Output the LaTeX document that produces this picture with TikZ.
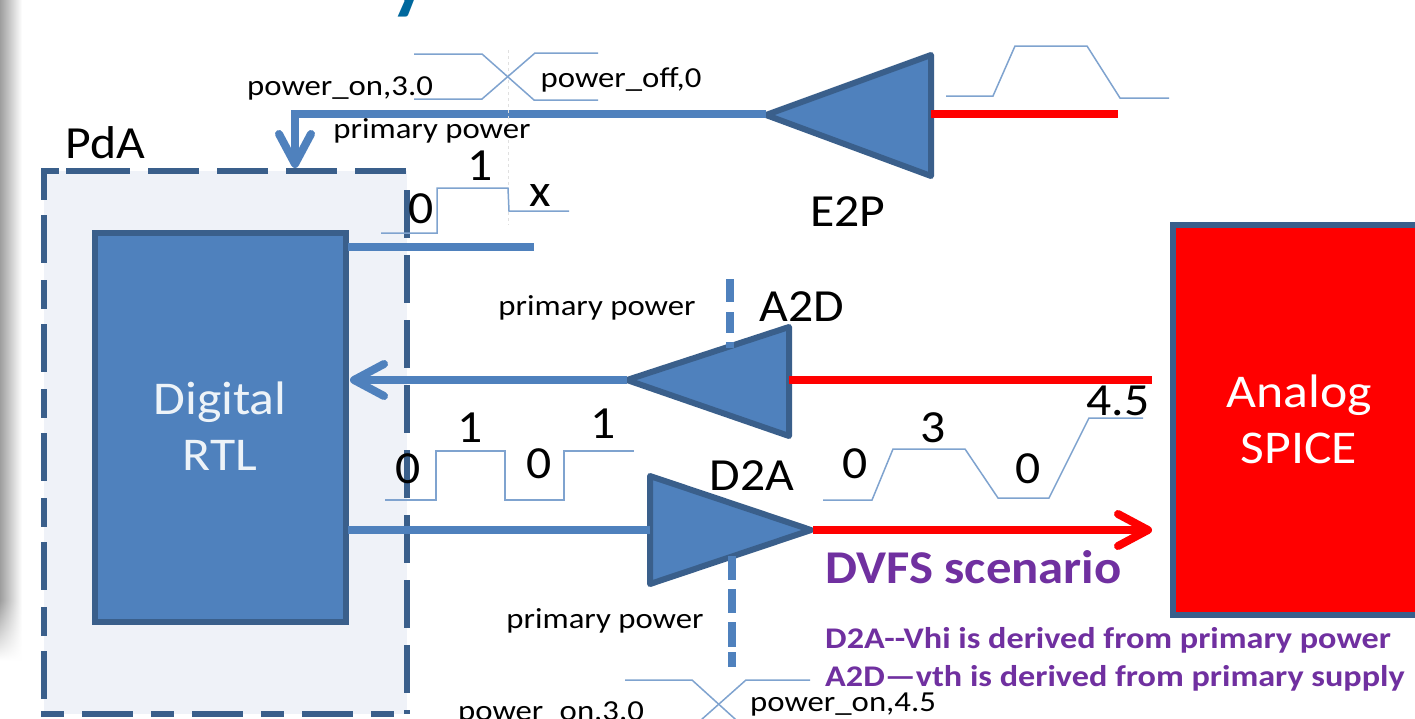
\documentclass[tikz,border=0pt]{standalone}
\usepackage{fontspec}
\setmainfont{Carlito}
\newfontfamily\smallface[FakeStretch=1.13]{Carlito}
\newfontfamily\sigface[FakeStretch=1.08]{Carlito}
\newfontfamily\blockface[FakeStretch=1.1]{Carlito}
\newfontfamily\noteface[FakeStretch=1.14]{Carlito}
\newfontfamily\headface[FakeStretch=1.08]{Carlito}
\usetikzlibrary{arrows.meta,calc,fadings}
\tikzfading[name=fadedown, top color=transparent!0, bottom color=transparent!100]
\definecolor{fillblue}{HTML}{4F81BD}
\definecolor{edgeblue}{HTML}{3A5F8B}
\definecolor{wave}{HTML}{7FA3CF}
\definecolor{paleblock}{HTML}{EFF2F8}
\definecolor{dvfs}{HTML}{7030A0}
\definecolor{titleblue}{HTML}{00689D}
\tikzset{
  x=1pt,y=-1pt,
  wire/.style={line width=8pt,color=fillblue},
  redwire/.style={line width=8.5pt,color=red},
  tri/.style={draw=edgeblue,fill=fillblue,line width=6pt,line join=round},
  wavy/.style={line width=1.5pt,color=wave},
  stem/.style={line width=8pt,color=fillblue},
  sig/.style={inner sep=0pt,text=black,font=\sigface\fontsize{46}{46}\selectfont},
  small/.style={inner sep=0pt,text=black,font=\smallface\fontsize{29}{29}\selectfont},
  note/.style={inner sep=0pt,anchor=west,text=dvfs,font=\noteface\bfseries\fontsize{30}{30}\selectfont},
  head/.style={inner sep=0pt,anchor=west,text=dvfs,font=\headface\bfseries\fontsize{47}{47}\selectfont},
  white label/.style={inner sep=0pt,font=\blockface\fontsize{47}{47}\selectfont},
  open arrow/.style={-{Straight Barb[length=30pt,width=32pt,line width=8pt,round]}},
  domain edge/.style={edgeblue,line width=6pt},
}
\begin{document}
\begin{tikzpicture}
\useasboundingbox (0,0) rectangle (1415,718);
\fill[white] (0,0) rectangle (1415,718);
% left shadow
\shade[left color=black!38,right color=white] (0,0) rectangle (22,600);
\shade[left color=black!38,right color=white,path fading=fadedown] (0,600) rectangle (22,660);
% clipped title glyph
\begin{scope}
\clip (0,0) rectangle (1415,718);
\node[inner sep=0pt,text=titleblue,font=\bfseries\fontsize{80}{80}\selectfont] (title) at (409,-9) {y};
\end{scope}
% power domain
\fill[paleblock] (44,171) rectangle (407,714);
\coordinate (dTL) at (44,171);
\coordinate (dTR) at (407,171);
\coordinate (dBL) at (44,714);
\coordinate (dBR) at (407,714);
\draw[domain edge,dash pattern=on 18pt off 7pt on 64pt off 18pt on 51pt off 18pt on 51pt off 18pt on 51pt off 18pt on 51pt] (41,171) -- (dTR);
\draw[domain edge,dash pattern=on 29pt off 15pt on 48pt off 17pt] (dTL) -- (dBL);
\draw[domain edge,dash pattern=on 48pt off 17pt] (407,190) -- (dBR);
\draw[domain edge,dash pattern=on 23pt off 18pt on 51pt off 18pt] (41,714) -- (dBR);
\node[sig] (pda) at (105,143) {PdA};
% RTL
\node[draw=edgeblue,fill=fillblue,line width=5.5pt,minimum width=251pt,minimum height=389pt,inner sep=0pt] (rtl) at (220.5,427.5) {};
\node[white label,text=white!90!fillblue,align=center] (rtltext) at (220,426) {Digital\\[9pt]RTL};
% SPICE
\node[draw=edgeblue,fill=red,line width=6pt,minimum width=252pt,minimum height=390pt,inner sep=0pt] (spice) at (1299,420) {};
\node[white label,text=white,align=center] (spicetext) at (1299,419) {Analog\\[9pt]SPICE};
% triangles
\path[tri] (931,55) -- (931,176) -- (766,115) -- cycle;
\path[tri] (789,327) -- (789,436) -- (627,380) -- cycle;
\path[tri] (650,476) -- (650,584) -- (811,530) -- cycle;
\coordinate (e2pL) at (766,114);
\coordinate (e2pR) at (931,114);
\coordinate (a2dL) at (627,380);
\coordinate (a2dR) at (789,380);
\coordinate (d2aL) at (650,530);
\coordinate (d2aR) at (813,530);
% E2P wires
\coordinate (e2pend) at (1118,114);
\draw[redwire] (e2pR) -- (e2pend);
\coordinate (corner) at (295,114);
\coordinate (pdatop) at (295,168);
\draw[line width=8pt,fillblue,open arrow,line join=miter] (e2pL) -- (corner) -- (pdatop);
% Output stub
\coordinate (stubend) at (534,247);
\draw[wire] (348,247) -- (stubend);
% A2D
\coordinate (a2dend) at (1152,380);
\draw[redwire] (a2dR) -- (a2dend);
\coordinate (rtlright) at (350,380);
\draw[line width=8pt,fillblue,open arrow] (a2dL) -- (rtlright);
\coordinate (a2dtop) at (730,279);
\coordinate (a2dbot) at (730,348);
\draw[stem,dash pattern=on 23pt off 10pt on 21pt off 9pt on 6pt off 100pt] (a2dtop) -- (a2dbot);
% D2A
\draw[wire] (348,530) -- (d2aL);
\coordinate (spiceleft) at (1152,530);
\draw[line width=8pt,red,open arrow] (d2aR) -- (spiceleft);
\coordinate (d2atop) at (732,556);
\coordinate (d2abot) at (732,667);
\draw[stem,dash pattern=on 24pt off 9pt on 24pt off 9pt on 25pt off 5pt on 15pt off 100pt] (d2atop) -- (d2abot);
% vertical guide
\draw[black!12,line width=0.8pt,dashed] (508,50) -- (508,225);
% waveforms
\draw[wavy] (414,54) -- (482,54) -- (534,100) -- (598,100);
\draw[wavy] (414,99) -- (482,99) -- (535,53) -- (598,53);
\draw[wavy] (946,96) -- (993,96) -- (1015,46) -- (1087,46) -- (1120,98) -- (1169,98);
\draw[wavy] (381,233) -- (437,233) -- (437,188) -- (508,188) -- (509,211) -- (569,211);
\draw[wavy] (385,500) -- (436,500) -- (436,451) -- (505,451) -- (505,500) -- (564,500) -- (564,451) -- (634,451);
\draw[wavy] (823,500) -- (872,500) -- (893,449) -- (965,449) -- (998,498) -- (1049,498) -- (1089,418) -- (1143,418);
\draw[wavy] (625,680) -- (692,680) -- (745,728);
\draw[wavy] (692,728) -- (746,680) -- (810,680);
% labels
\node[small] (l1) at (340,88) {power\_on,3.0};
\node[small] (l2) at (621,80) {power\_off,0};
\node[small] (l3) at (432,131) {primary power};
\node[small] (l4) at (597,308) {primary power};
\node[small] (l5) at (605,621) {primary power};
\node[small] (l6) at (551,713) {power\_on,3.0};
\node[small] (l7) at (843,705) {power\_on,4.5};
\node[sig] (e2p) at (848,212) {E2P};
\node[sig] (a2d) at (802,307) {A2D};
\node[sig] (d2a) at (752,476) {D2A};
\node[sig] (s1) at (480,166) {1};
\node[sig] (s0) at (421,209) {0};
\node[sig] (sx) at (540,196) {x};
\node[sig] (s2) at (470,428) {1};
\node[sig] (s3) at (408,469) {0};
\node[sig] (s4) at (539,464) {0};
\node[sig] (s5) at (603,424) {1};
\node[sig] (s6) at (855,464) {0};
\node[sig] (s7) at (933,428) {3};
\node[sig] (s8) at (1028,469) {0};
\node[sig] (s9) at (1118,401) {4.5};
\node[head] (n1) at (825,567) {DVFS scenario};
\node[note] (n2) at (825,640) {D2A-{}-Vhi is derived from primary power};
\node[note] (n3) at (825,678) {A2D—vth is derived from primary supply};
\end{tikzpicture}
\end{document}
